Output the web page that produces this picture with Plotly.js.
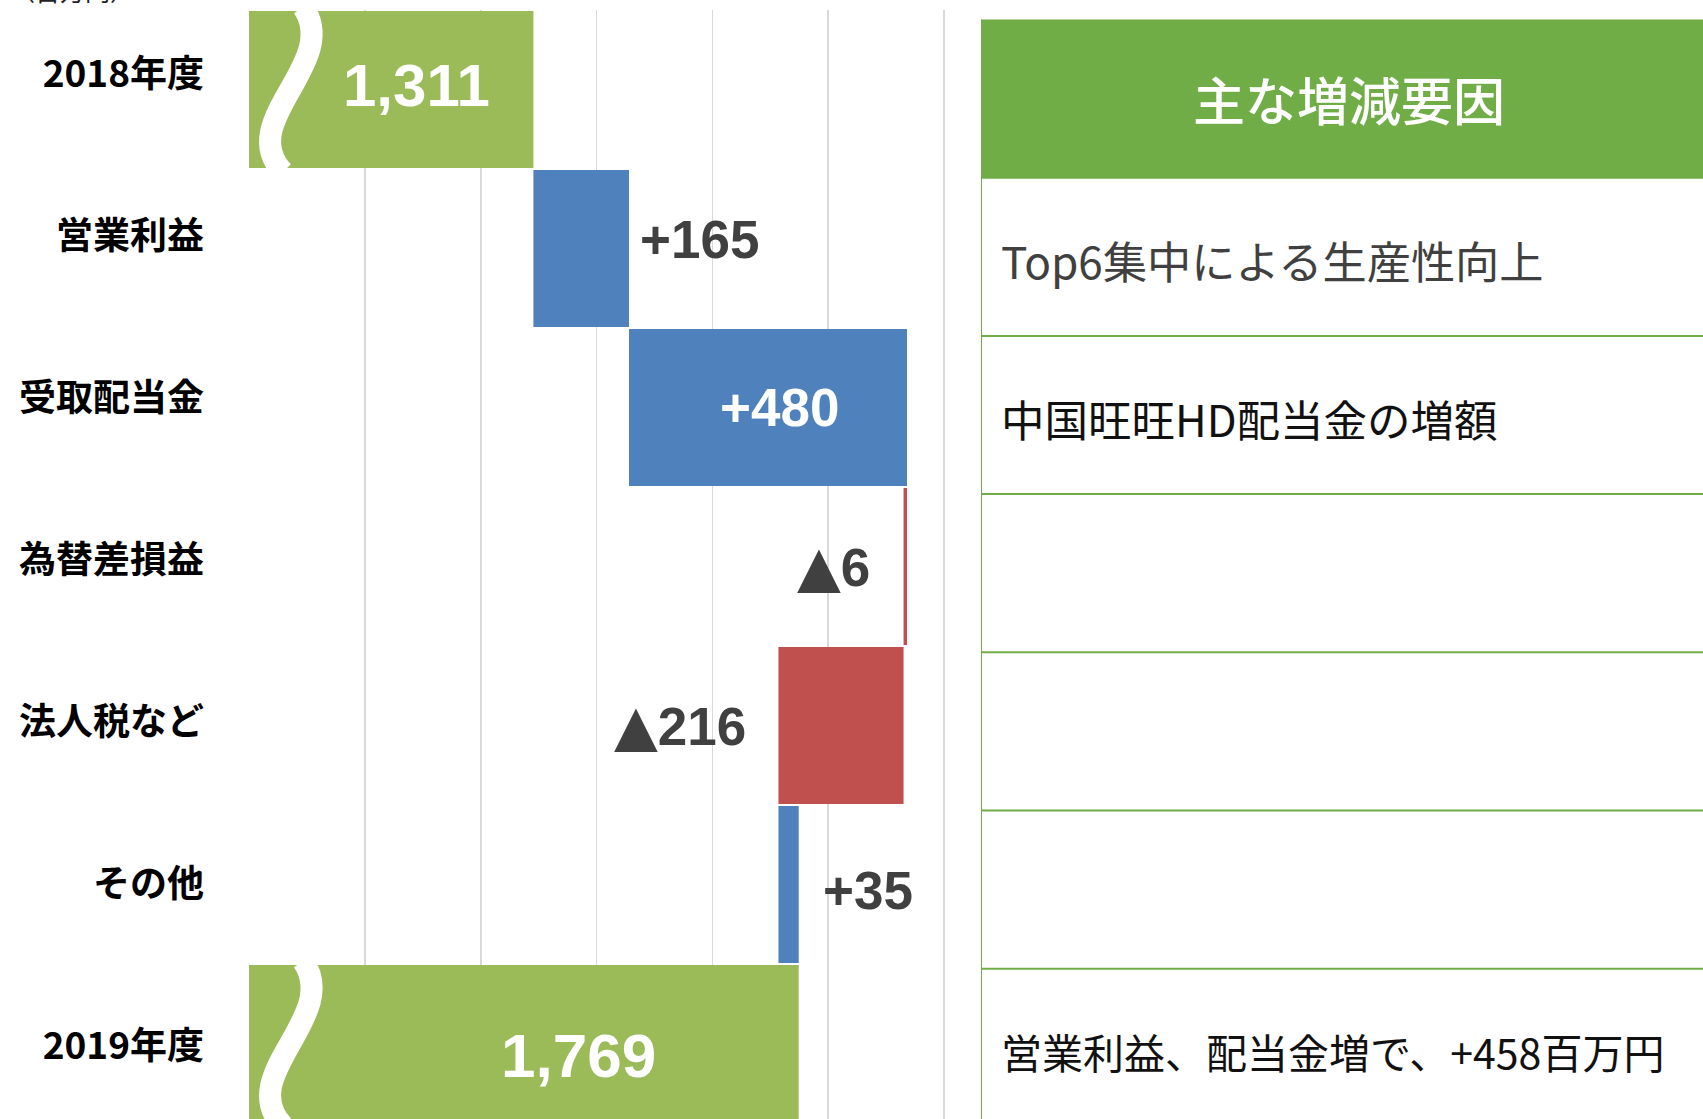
<!DOCTYPE html>
<html><head><meta charset="utf-8">
<script src="https://cdn.plot.ly/plotly-3.0.1.min.js"></script>
<style>html,body{margin:0;padding:0;background:#fff;overflow:hidden;} #chart{width:1703px;height:1119px;}</style>
</head><body><div id="chart"></div>
<script>
// ---- data ----
const categories = ['2018年度', '営業利益', '受取配当金', '為替差損益', '法人税など', 'その他', '2019年度'];
const values = [1311, 165, 480, -6, -216, 35, 1769];
const measures = ['absolute', 'relative', 'relative', 'relative', 'relative', 'relative', 'total'];
const tableHeader = '主な増減要因';
const tableRows = ['Top6集中による生産性向上', '中国旺旺HD配当金の増額', '', '', '', '営業利益、配当金増で、+458百万円'];
const unitLabel = '（百万円）';

// ---- geometry ----
const W = 1703, H = 1119, ML = 249, MT = 10, MR = 0, MB = 0;
const PW = W - ML - MR, PH = H - MT - MB;
const chartRightPx = 947, tableLeftPx = 981;
const xRange = [820, 2025];
const tableRowPx = 158.2, tableTopPx = 19.5;

// cumulative positions from data
const starts = [], ends = [];
let run = 0;
values.forEach((v, i) => {
  if (measures[i] === 'absolute') { starts.push(0); run = v; ends.push(v); }
  else if (measures[i] === 'total') { starts.push(0); ends.push(run); }
  else { starts.push(run); run += v; ends.push(run); }
});
const TRI = '<span style="font-family:\'DejaVu Sans\';font-size:57px;">▲</span>';
function fmt(v, i) {
  if (measures[i] !== 'relative') return v.toLocaleString('en-US');
  return v >= 0 ? '+' + v : TRI + Math.abs(v);
}

const CJK = '"Noto Sans CJK JP", "Noto Sans", sans-serif';
const NUM = '"Liberation Sans", Arial, "DejaVu Sans", sans-serif';
const DARK = '#404040';

// label style per bar: anchor side relative to bar, shift, colour
const labelStyle = [
  {at: 'max', anchor: 'right', dx: -41, dy: 4, color: '#fff', size: 60},
  {at: 'max', anchor: 'left', dx: 9, dy: 9, color: DARK, size: 53},
  {at: 'max', anchor: 'right', dx: -66, dy: 0, color: '#fff', size: 53},
  {at: 'max', anchor: 'right', dx: -35, dy: 0, color: DARK, size: 53},
  {at: 'min', anchor: 'right', dx: -30, dy: 0, color: DARK, size: 53},
  {at: 'max', anchor: 'left', dx: 22, dy: -6, color: DARK, size: 53},
  {at: 'max', anchor: 'right', dx: -141, dy: -12, color: '#fff', size: 62}
];

const annotations = [];
values.forEach((v, i) => {
  const s = labelStyle[i];
  const xv = s.at === 'max' ? Math.max(starts[i], ends[i]) : Math.min(starts[i], ends[i]);
  annotations.push({
    xref: 'x', yref: 'y', x: xv, y: categories[i], text: fmt(measures[i] === 'total' ? ends[i] : v, i),
    xanchor: s.anchor, yanchor: 'middle', xshift: s.dx, yshift: s.dy, showarrow: false,
    font: {family: NUM, size: s.size, color: s.color, weight: 'bold'}
  });
});

// table (on its own axes x2/y2, unit = one table row)
annotations.push({
  xref: 'x2', yref: 'y2', x: 0.5, y: 0.5, text: tableHeader, showarrow: false,
  xanchor: 'center', yanchor: 'middle', xshift: 7,
  font: {family: CJK, size: 52, color: '#ffffff', weight: 500}
});
const rowFont = [44.2, 43.5, 41, 41, 41, 41];
tableRows.forEach((t, i) => {
  if (!t) return;
  annotations.push({
    xref: 'x2', yref: 'y2', x: 0, y: i + 1.5, text: t, showarrow: false,
    xanchor: 'left', yanchor: 'middle', xshift: 18, yshift: -3,
    font: {family: CJK, size: rowFont[i], color: i === 0 ? '#404040' : '#111111'}
  });
});

// unit label (cut off at top, as in the source)
annotations.push({
  xref: 'paper', yref: 'paper', x: (8 - ML) / PW, y: 1, xanchor: 'left', yanchor: 'bottom',
  text: unitLabel, showarrow: false, yshift: 0,
  font: {family: CJK, size: 25, color: '#222'}
});

const GREEN = '#70AD47';
const shapes = [];
shapes.push({type: 'rect', xref: 'x2', yref: 'y2', x0: 0, x1: 1, y0: 0, y1: 1, fillcolor: GREEN, line: {width: 0}});
for (let i = 1; i <= tableRows.length; i++) {
  shapes.push({type: 'line', xref: 'x2', yref: 'y2', x0: 0, x1: 1, y0: i, y1: i, line: {color: GREEN, width: 2}});
}
shapes.push({type: 'line', xref: 'x2', yref: 'y2', x0: 0, x1: 0, y0: 0, y1: 8, line: {color: GREEN, width: 2}});

// axis-break waves on the total bars (pixel -> paper)
const yRange = [6.475, -0.5];
const rowPx = PH / (yRange[0] - yRange[1]);
function px2x(px) { return (px - ML) / PW; }
function py2y(py) { return 1 - (py - MT) / PH; }
[0, categories.length - 1].forEach(i => {
  const top = MT + (i - 0.5 - yRange[1]) * rowPx;
  const h = rowPx;
  const p = [[303, top - 3], [342, top + 0.33 * h], [234, top + 0.70 * h], [283, top + h + 3]];
  const path = 'M' + px2x(p[0][0]) + ',' + py2y(p[0][1]) +
    ' C' + px2x(p[1][0]) + ',' + py2y(p[1][1]) + ' ' + px2x(p[2][0]) + ',' + py2y(p[2][1]) + ' ' +
    px2x(p[3][0]) + ',' + py2y(p[3][1]);
  shapes.push({type: 'path', xref: 'paper', yref: 'paper', path: path, line: {color: '#ffffff', width: 22}});
});

const traces = [
  {
    type: 'waterfall', orientation: 'h', y: categories, x: values, measure: measures,
    connector: {visible: false},
    increasing: {marker: {color: '#4F81BD', line: {width: 0}}},
    decreasing: {marker: {color: '#C0504D', line: {width: 0}}},
    totals: {marker: {color: '#9BBB59', line: {width: 0}}},
    textinfo: 'none', hoverinfo: 'skip', showlegend: false
  },
  {type: 'scatter', x: [1000], y: [3], xaxis: 'x', yaxis: 'y3', mode: 'markers', marker: {opacity: 0}, hoverinfo: 'skip', showlegend: false},
  {type: 'scatter', x: [0.5], y: [3], xaxis: 'x2', yaxis: 'y2', mode: 'markers', marker: {opacity: 0}, hoverinfo: 'skip', showlegend: false}
];

const layout = {
  width: W, height: H,
  margin: {l: ML, r: MR, t: MT, b: MB, pad: 0},
  paper_bgcolor: '#ffffff', plot_bgcolor: 'rgba(0,0,0,0)',
  showlegend: false, waterfallgap: 0.012,
  xaxis: {
    domain: [0, (chartRightPx - ML) / PW], range: xRange, tickmode: 'linear', tick0: 820, dtick: 200,
    showgrid: true, gridcolor: '#d9d9d9', gridwidth: 1.6, zeroline: false, showline: false,
    showticklabels: false, ticks: '', fixedrange: true
  },
  yaxis: {
    type: 'category', range: yRange, showgrid: false, zeroline: false, showline: false,
    showticklabels: false, ticks: '', fixedrange: true
  },
  yaxis3: {
    overlaying: 'y', anchor: 'x', side: 'left', type: 'linear',
    range: [(H - 74) / 162 , -(74 - MT) / 162],
    tickmode: 'array', tickvals: categories.map((c, i) => i), ticktext: categories,
    showgrid: false, zeroline: false, showline: false, ticks: '', ticklabelstandoff: 44,
    tickfont: {family: CJK, size: 37, color: '#000000', weight: 'bold'}, fixedrange: true
  },
  xaxis2: {
    domain: [(tableLeftPx - ML) / PW, 1], range: [0, 1], anchor: 'y2', visible: false, fixedrange: true
  },
  yaxis2: {
    domain: [0, 1], anchor: 'x2', visible: false, fixedrange: true,
    range: [(H - tableTopPx) / tableRowPx, -(tableTopPx - MT) / tableRowPx]
  },
  annotations: annotations,
  shapes: shapes
};

Plotly.newPlot('chart', traces, layout, {displayModeBar: false, staticPlot: true});
</script>
</body></html>
